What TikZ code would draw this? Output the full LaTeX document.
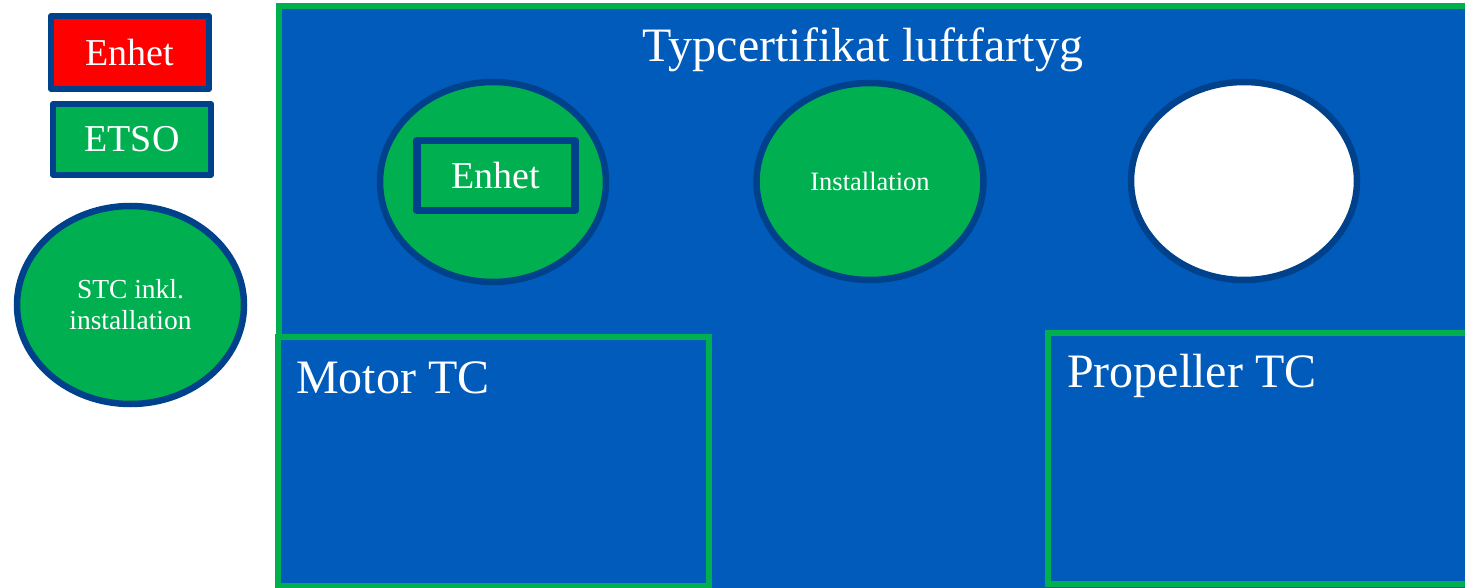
\documentclass[tikz,border=0pt]{standalone}
\usepackage{fontspec}
\setmainfont{Liberation Serif}
\usetikzlibrary{shapes.geometric}
\definecolor{mainblue}{RGB}{0,91,187}
\definecolor{tcgreen}{RGB}{0,176,80}
\definecolor{darkedge}{RGB}{0,65,140}
\definecolor{enhetred}{RGB}{255,0,0}
\begin{document}
\begin{tikzpicture}[x=1pt,y=-1pt,
  legendbox/.style={draw=darkedge, line width=6pt, line join=round, text=white, inner sep=0pt, font=\fontsize{38}{45}\selectfont},
  oval/.style={ellipse, draw=darkedge, line width=6.5pt, inner sep=0pt, text=white},
  tcframe/.style={draw=tcgreen, line width=6pt, fill=mainblue},
  biglabel/.style={text=white, font=\fontsize{48}{57}\selectfont, inner sep=0pt}
]
\useasboundingbox (0,0) rectangle (1465,588);
\clip (0,0) rectangle (1465,588);
\fill[white] (0,0) rectangle (1465,588);
% legend
\node[legendbox, fill=enhetred, minimum width=158pt, minimum height=73pt] (legenhet) at (130,52.5) {Enhet};
\node[legendbox, fill=tcgreen, minimum width=158pt, minimum height=71pt] (legetso) at (132,139.5) {ETSO};
\node[oval, fill=tcgreen, minimum width=227pt, minimum height=198pt, align=center, font=\fontsize{27.5}{31}\selectfont] (legstc) at (130.5,305) {STC inkl.\\installation};
% main frame
\draw[tcframe] (279,6) rectangle (1480,600);
\node[biglabel, anchor=base] (title) at (863,62) {Typcertifikat luftfartyg};
% ovals
\node[oval, fill=tcgreen, minimum width=226pt, minimum height=200pt] (ovenhet) at (493,182) {};
\node[legendbox, fill=tcgreen, line width=7.5pt, minimum width=158pt, minimum height=70pt] (inenhet) at (496,175.5) {Enhet};
\node[oval, fill=tcgreen, minimum width=227pt, minimum height=197pt, font=\fontsize{26.5}{30}\selectfont] (ovinst) at (870,181.5) {Installation};
\node[oval, fill=white, minimum width=226pt, minimum height=198pt] (ovblank) at (1244,181) {};
% sub TC boxes
\draw[tcframe] (278,337) rectangle (708.5,585.5);
\node[biglabel, anchor=base west] (motor) at (296,393) {Motor TC};
\draw[tcframe] (1048,333) rectangle (1480,584);
\node[biglabel, anchor=base west] (prop) at (1067,387) {Propeller TC};
\end{tikzpicture}
\end{document}
